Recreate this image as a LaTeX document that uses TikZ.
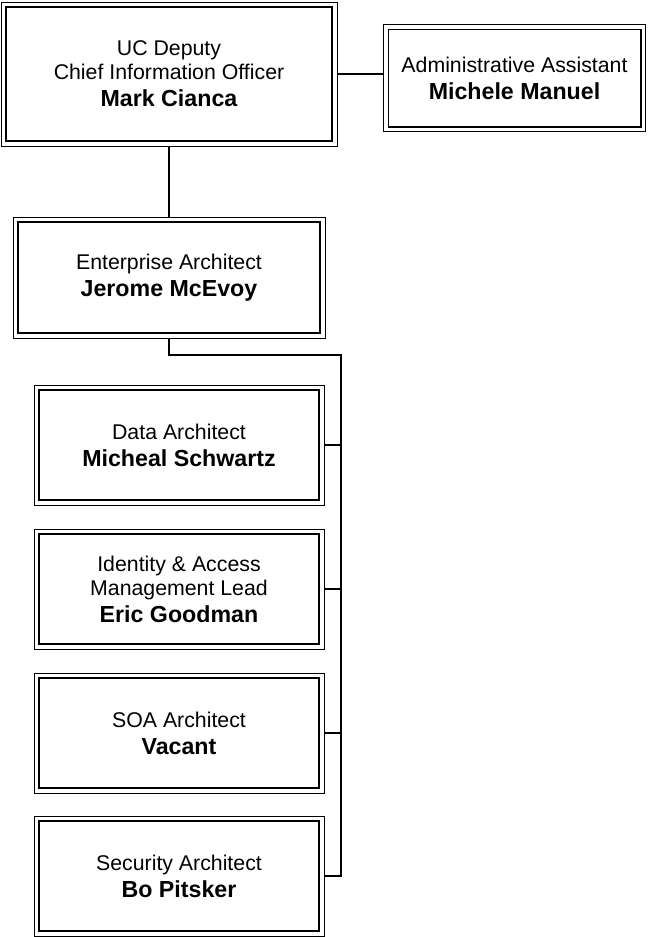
\documentclass[tikz,border=0pt]{standalone}
\usepackage{fontspec}
\setmainfont{Liberation Sans}
\usepackage{tikz}
\usetikzlibrary{calc,positioning}
\newcommand{\orgfont}{\fontsize{21.3}{24}\selectfont}
\newcommand{\who}[1]{{\fontsize{23.2}{24}\selectfont\bfseries #1}}
\tikzset{%
	unitbox/.style = {draw, rectangle, line width=0.9pt, align=center, font=\orgfont, inner sep=0pt,
		path picture={\draw[line width=1.6pt] ([shift={(4.8pt,4.8pt)}]path picture bounding box.south west) rectangle ([shift={(-4.8pt,-4.8pt)}]path picture bounding box.north east);}},
	headbox/.style = {unitbox, minimum width=336pt, minimum height=144pt},
	archbox/.style = {unitbox, minimum width=312pt, minimum height=121pt},
	staffbox/.style= {unitbox, minimum width=290pt, minimum height=120pt},
	asstbox/.style = {unitbox, minimum width=262pt, minimum height=107pt},
	link/.style    = {line width=1.5pt},
}
\begin{document}
\begin{tikzpicture}[x=1pt, y=-1pt, node distance=144pt]
		\useasboundingbox (0,0) rectangle (648,937);
		\node[headbox] (ceo) at (169,74) {UC Deputy\\Chief Information Officer\\[3pt]\who{Mark Cianca}};
		\node[asstbox] (asst) at (514.5,78) {Administrative Assistant\\[3pt]\who{Michele Manuel}};
		\node[archbox] (ea) at (169,277.5) {Enterprise Architect\\[3pt]\who{Jerome McEvoy}};
		\node[staffbox] (data) at (179,445) {Data Architect\\[3pt]\who{Micheal Schwartz}};
		\node[staffbox, below of=data] (iam) {Identity \& Access\\Management Lead\\[3pt]\who{Eric Goodman}};
		\node[staffbox, below of=iam] (soa) {SOA Architect\\[3pt]\who{Vacant}};
		\node[staffbox, below of=soa, yshift=1pt] (sec) {Security Architect\\[3pt]\who{Bo Pitsker}};
		\coordinate (bend) at (341,355);
		
		\draw[line width=1.3pt] (ceo.east) -- (ceo.east -| asst.west);
		\draw[link] (ceo.south) -- (ea.north);
		\draw[link] (ea.south) |- (bend) -- (bend |- sec.east) -- (sec.east);
		\draw[link] (data.east) -- (data.east -| bend);
		\draw[link] (iam.east) -- (iam.east -| bend);
		\draw[link] (soa.east) -- (soa.east -| bend);
\end{tikzpicture}
\end{document}
